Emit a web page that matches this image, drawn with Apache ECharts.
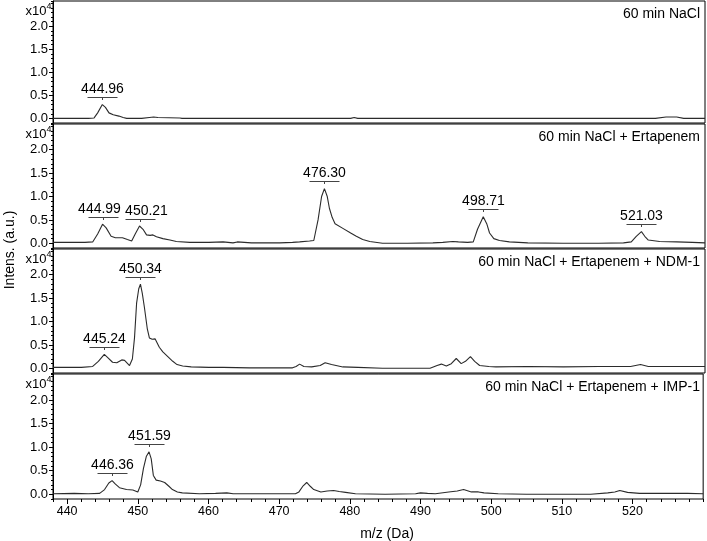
<!DOCTYPE html>
<html>
<head>
<meta charset="utf-8">
<script src="https://cdn.jsdelivr.net/npm/echarts@6/dist/echarts.min.js"></script>
<style>
  html, body { margin: 0; padding: 0; background: #fff; }
  #chart { width: 707px; height: 541px; }
</style>
</head>
<body>
<div id="chart"></div>
<script>
// ---- data ----
var mzRange = [438, 530];
var xTicks = [440, 450, 460, 470, 480, 490, 500, 510, 520];
var xMinorStep = 2;
var yTicks = [0, 0.5, 1.0, 1.5, 2.0];
var yMinorStep = 0.1;

var panelTitles = [
  '60 min NaCl',
  '60 min NaCl + Ertapenem',
  '60 min NaCl + Ertapenem + NDM-1',
  '60 min NaCl + Ertapenem + IMP-1'
];

// intensities in units of 10^4
var traceNaCl = [[438,0.0],[443.0,0.0],[443.8,0.01],[444.3,0.12],[444.96,0.30],[445.4,0.24],[445.9,0.12],
  [446.5,0.08],[447.3,0.05],[447.9,0.02],[448.4,0.0],[449.0,0.0],[449.2,0.02],[449.4,0.0],[450.5,0.0],
  [451.6,0.02],[452.2,0.03],[452.8,0.02],[455.9,0.01],[456.2,0.0],[480.0,0.0],[480.5,0.02],[481.0,0.0],
  [523.0,0.0],[524.5,0.03],[526.0,0.03],[527,0.0],[530,0.0]];

var traceErta = [[438,0.02],[441,0.02],[442.5,0.02],[443.6,0.03],[444.3,0.2],[444.99,0.41],[445.5,0.33],
  [446.2,0.15],[446.8,0.12],[447.8,0.12],[448.5,0.08],[449.1,0.05],[449.6,0.2],[450.21,0.37],[450.7,0.3],
  [451.2,0.18],[451.7,0.17],[452.1,0.18],[452.6,0.14],[453.5,0.1],[454.5,0.07],[455.4,0.04],[457.3,0.02],
  [460,0.02],[462,0.03],[463.4,0.01],[464,0.03],[466,0.01],[470,0.01],[471.8,0.02],[472.8,0.03],[474.2,0.05],
  [474.8,0.06],[475.4,0.5],[475.9,1.0],[476.3,1.17],[476.7,1.0],[477.0,0.75],[477.4,0.55],[477.8,0.42],
  [478.9,0.32],[480.0,0.22],[480.8,0.15],[481.7,0.08],[482.7,0.04],[484.5,0.0],[488,0.0],[491.6,0.01],
  [493,0.02],[494.4,0.04],[495.2,0.03],[496.5,0.02],[497.3,0.03],[497.9,0.3],[498.71,0.57],[499.2,0.42],
  [499.6,0.22],[500.2,0.1],[501,0.06],[502.4,0.03],[505,0.01],[510,0.0],[515,0.0],[518.5,0.01],[519.6,0.03],
  [520.3,0.15],[521.03,0.25],[521.5,0.15],[522,0.07],[523.6,0.04],[526,0.03],[528.2,0.02],[530,0.01]];

var traceNdm = [[438,0.02],[442,0.02],[443.6,0.04],[444.4,0.15],[445.24,0.30],[445.8,0.22],[446.4,0.13],
  [447.0,0.12],[447.7,0.18],[448.1,0.17],[448.8,0.06],[449.2,0.2],[449.5,0.65],[449.8,1.4],[450.1,1.7],
  [450.34,1.80],[450.6,1.6],[450.9,1.3],[451.3,0.85],[451.6,0.65],[452.0,0.62],[452.4,0.63],[453.0,0.45],
  [453.5,0.35],[454.2,0.25],[454.9,0.15],[455.5,0.08],[456.3,0.05],[457.5,0.03],[460,0.02],[462,0.02],
  [465.7,0.01],[471.8,0.01],[472.3,0.04],[472.8,0.09],[473.4,0.04],[474.5,0.03],[475.7,0.06],[476.4,0.12],
  [477.3,0.08],[478.9,0.03],[481,0.02],[484.5,0.0],[491.2,0.0],[492.2,0.06],[492.8,0.09],[493.5,0.05],
  [494.2,0.1],[494.9,0.21],[495.6,0.1],[496.2,0.15],[496.9,0.25],[497.5,0.15],[498.2,0.06],[499.5,0.04],
  [500.5,0.03],[505,0.04],[510,0.03],[515,0.04],[519.5,0.04],[520.9,0.08],[522,0.04],[530,0.04]];

var traceImp = [[438,0.01],[441,0.02],[443,0.01],[444.6,0.02],[445.3,0.1],[445.9,0.24],[446.36,0.29],
  [446.8,0.22],[447.4,0.14],[448.4,0.1],[449.3,0.09],[450.0,0.05],[450.4,0.2],[450.8,0.55],[451.2,0.8],
  [451.59,0.9],[451.9,0.75],[452.2,0.4],[452.6,0.3],[453.2,0.28],[453.8,0.25],[454.4,0.17],[454.9,0.1],
  [455.6,0.05],[456.3,0.03],[458.7,0.01],[461,0.02],[462.6,0.03],[463.5,0.01],[466,0.01],[470,0.01],
  [472.3,0.01],[472.8,0.05],[473.4,0.18],[473.9,0.25],[474.4,0.17],[474.9,0.1],[475.9,0.05],[476.8,0.07],
  [477.7,0.08],[478.5,0.06],[479.4,0.04],[480.8,0.01],[485,0.0],[489.3,0.01],[490.0,0.03],[491,0.02],
  [492.1,0.01],[494.0,0.05],[495.2,0.07],[496.1,0.1],[497.2,0.05],[498.2,0.05],[499,0.03],[501,0.01],
  [505,0.0],[512.7,0.0],[514.1,0.0],[516.5,0.03],[517.5,0.05],[518.2,0.08],[519.3,0.04],[521,0.02],
  [524.5,0.02],[527.8,0.02],[530,0.01]];

// labelled peaks: m/z, apex intensity, label
var peaksNaCl = [[444.96, 0.31, '444.96']];
var peaksErta = [[444.99, 0.41, '444.99'], [450.21, 0.37, '450.21'], [476.30, 1.17, '476.30'],
  [498.71, 0.57, '498.71'], [521.03, 0.25, '521.03']];
var peaksNdm = [[445.24, 0.30, '445.24'], [450.34, 1.80, '450.34']];
var peaksImp = [[446.36, 0.29, '446.36'], [451.59, 0.90, '451.59']];

var traces = [traceNaCl, traceErta, traceNdm, traceImp];
var peakSets = [peaksNaCl, peaksErta, peaksNdm, peaksImp];

// ---- layout ----
var FONT = '"Liberation Sans", Arial, sans-serif';
var gridTops = [1, 124, 249, 374];
var gridHeights = [122, 124, 124, 125];
var yMin = -0.1, yMax = 2.55;
// horizontal nudges (px) for crowded peak labels
var labelNudge = { '444.99': -4, '450.21': 6 };

var chart = echarts.init(document.getElementById('chart'));

function peakRenderer(list) {
  return function (params, api) {
    var p = api.coord([api.value(0), api.value(1)]);
    var x = Math.round(p[0]) + 0.5;
    var barY = Math.round(p[1] - 7.5) + 0.5;
    var txt = list[params.dataIndex][2];
    return {
      type: 'group',
      children: [
        { type: 'line', shape: { x1: x - 15, y1: barY, x2: x + 15, y2: barY },
          style: { stroke: '#444', lineWidth: 1 } },
        { type: 'line', shape: { x1: x, y1: barY, x2: x, y2: barY + 2.5 },
          style: { stroke: '#444', lineWidth: 1 } },
        { type: 'text', x: x + (labelNudge[txt] || 0), y: barY - 1,
          style: { text: txt, fill: '#000', fontSize: 14, fontFamily: FONT,
                   align: 'center', verticalAlign: 'bottom' } }
      ]
    };
  };
}

var grids = [], xAxes = [], yAxes = [], series = [];
for (var i = 0; i < 4; i++) {
  grids.push({ left: 53, right: 2, top: gridTops[i], height: gridHeights[i], show: true,
    borderColor: '#000', borderWidth: 1, backgroundColor: 'transparent' });

  if (i < 3) {
    xAxes.push({ gridIndex: i, type: 'value', min: mzRange[0], max: mzRange[1], show: false });
  } else {
    xAxes.push({ gridIndex: i, type: 'value', min: mzRange[0], max: mzRange[1], position: 'bottom',
      axisLine: { show: false, onZero: false }, splitLine: { show: false },
      axisTick: { show: true, length: 5, customValues: xTicks, lineStyle: { color: '#000' } },
      axisLabel: { customValues: xTicks, fontSize: 12.5, color: '#000', fontFamily: FONT, margin: 6 } });
  }

  yAxes.push({ gridIndex: i, type: 'value', min: yMin, max: yMax, position: 'left',
    axisLine: { show: true, onZero: false, lineStyle: { color: '#000' } }, splitLine: { show: false },
    axisTick: { show: true, length: 4, customValues: yTicks, lineStyle: { color: '#000' } },
    axisLabel: { customValues: yTicks, fontSize: 13, color: '#000', fontFamily: FONT, margin: 5,
      formatter: function (v) { return v.toFixed(1); } } });
  // minor ticks: min is a multiple of the step
  yAxes.push({ gridIndex: i, type: 'value', min: yMin, max: yMax, interval: yMinorStep, position: 'left',
    axisLine: { show: false, onZero: false }, splitLine: { show: false },
    axisLabel: { show: true, color: 'rgba(0,0,0,0)', fontSize: 1 },
    axisTick: { show: true, length: 2, lineStyle: { color: '#000' } } });

  series.push({ type: 'line', xAxisIndex: i, yAxisIndex: 2 * i, data: traces[i],
    showSymbol: false, symbol: 'none', lineStyle: { color: '#2b2b2b', width: 1.1 }, silent: true });
  series.push({ type: 'custom', xAxisIndex: i, yAxisIndex: 2 * i, data: peakSets[i],
    dimensions: ['mz', 'h', 'label'], encode: { x: 0, y: 1 },
    renderItem: peakRenderer(peakSets[i]), silent: true });
}
// minor ticks on the m/z axis (438 is a multiple of 2)
xAxes.push({ gridIndex: 3, type: 'value', min: mzRange[0], max: mzRange[1], interval: xMinorStep,
  position: 'bottom', axisLine: { show: false, onZero: false }, splitLine: { show: false },
  axisLabel: { show: true, color: 'rgba(0,0,0,0)', fontSize: 1 },
  axisTick: { show: true, length: 3, lineStyle: { color: '#000' } } });

chart.setOption({
  animation: false,
  backgroundColor: '#fff',
  grid: grids,
  xAxis: xAxes,
  yAxis: yAxes,
  series: series
});

// texts: panel titles, x10^4 exponent, axis names
var graphics = [];
for (var k = 0; k < 4; k++) {
  graphics.push({ type: 'text', right: 7, top: gridTops[k] + 6,
    style: { text: panelTitles[k], fontSize: 14, fontFamily: FONT, fill: '#000' } });
  var py = chart.convertToPixel({ yAxisIndex: 2 * k }, 2.32);
  var px = chart.convertToPixel({ xAxisIndex: k }, mzRange[0]);
  graphics.push({ type: 'text', x: px - 6.5, y: py,
    style: { text: 'x10', fontSize: 13, fontFamily: FONT, fill: '#000', align: 'right', verticalAlign: 'middle' } });
  graphics.push({ type: 'text', x: px - 6.5, y: py - 5,
    style: { text: '4', fontSize: 9, fontFamily: FONT, fill: '#000', align: 'left', verticalAlign: 'middle' } });
}
graphics.push({ type: 'text', x: 10, y: 250, rotation: Math.PI / 2,
  style: { text: 'Intens. (a.u.)', fontSize: 14, fontFamily: FONT, fill: '#000', align: 'center', verticalAlign: 'middle' } });
graphics.push({ type: 'text', x: 387, y: 534,
  style: { text: 'm/z (Da)', fontSize: 14, fontFamily: FONT, fill: '#000', align: 'center', verticalAlign: 'middle' } });

chart.setOption({ graphic: graphics });
</script>
</body>
</html>
